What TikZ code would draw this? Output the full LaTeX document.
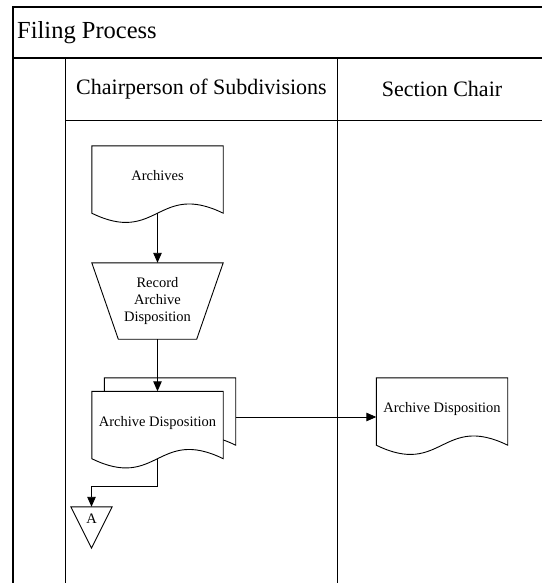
\documentclass[tikz,border=0pt]{standalone}
\usepackage{fontspec}
\setmainfont{Liberation Serif}
\usetikzlibrary{arrows.meta,backgrounds}

\begin{document}
\begin{tikzpicture}[x=1pt,y=-1pt,
  laneline/.style={draw=black,line width=0.9pt},
  boldline/.style={draw=black,line width=1.6pt},
  shapeline/.style={draw=black,fill=white,line width=0.9pt},
  doc/.style={minimum width=131pt,minimum height=67pt,inner sep=0pt,align=center,font=\fontsize{14.5}{17}\selectfont,text height=10pt,text depth=8pt},
  manual/.style={minimum width=131pt,minimum height=76pt,inner sep=0pt,align=center,font=\fontsize{14.5}{17}\selectfont},
  offpage/.style={minimum width=41pt,minimum height=41pt,inner sep=0pt,font=\fontsize{14.5}{17}\selectfont,text height=10pt,text depth=19pt},
  flow/.style={-{Triangle[length=10pt,width=8.5pt]},draw=black,line width=0.9pt}]
\useasboundingbox (0,0) rectangle (542,583);
\node[anchor=west,inner sep=0pt,font=\fontsize{24.5}{28}\selectfont] (title) at (17,33) {Filing Process};
\node[inner sep=0pt,font=\fontsize{22}{26}\selectfont] (lane1) at (201.5,89) {Chairperson of Subdivisions};
\node[inner sep=0pt,font=\fontsize{22}{26}\selectfont] (lane2) at (442,89) {Section Chair};
\node[doc] (arch) at (157.5,179.5) {Archives};
\node[manual] (rec) at (157.5,301) {Record\\Archive\\Disposition};
\node[doc] (disp2) at (170,411.5) {};
\node[doc] (disp) at (157.5,425) {Archive Disposition};
\node[doc] (secdisp) at (442,411.5) {Archive Disposition};
\node[offpage] (pageA) at (91.5,527.5) {A};

\begin{scope}[on background layer]
\draw[boldline] (13,583) -- (13,7) -- (542,7);
\draw[boldline] (13,58) -- (542,58);
\draw[laneline] (65,58) -- (65,583);
\draw[laneline] (337.5,58) -- (337.5,583);
\draw[laneline] (65,120.5) -- (542,120.5);
\foreach \n in {arch,disp2,disp,secdisp}
  \draw[shapeline] (\n.south west) -- (\n.north west) -- (\n.north east) -- (\n.south east) .. controls +(-65.5,-32) and +(65.5,32) .. (\n.south west) -- cycle;
\draw[shapeline] (rec.north west) -- (rec.north east) -- ([xshift=-26.5pt]rec.south east) -- ([xshift=26.5pt]rec.south west) -- cycle;
\draw[shapeline] (pageA.north west) -- (pageA.north east) -- (pageA.south) -- cycle;
\end{scope}

\draw[flow] (arch.south) -- (rec.north);
\draw[flow] (rec.south) -- (disp.north);
\draw[flow] ([yshift=-5.5pt]disp2.east) -- ([yshift=-5.5pt]secdisp.west);
\draw[flow] (disp.south) -- ++(0,28) -| (pageA.north);
\end{tikzpicture}
\end{document}
